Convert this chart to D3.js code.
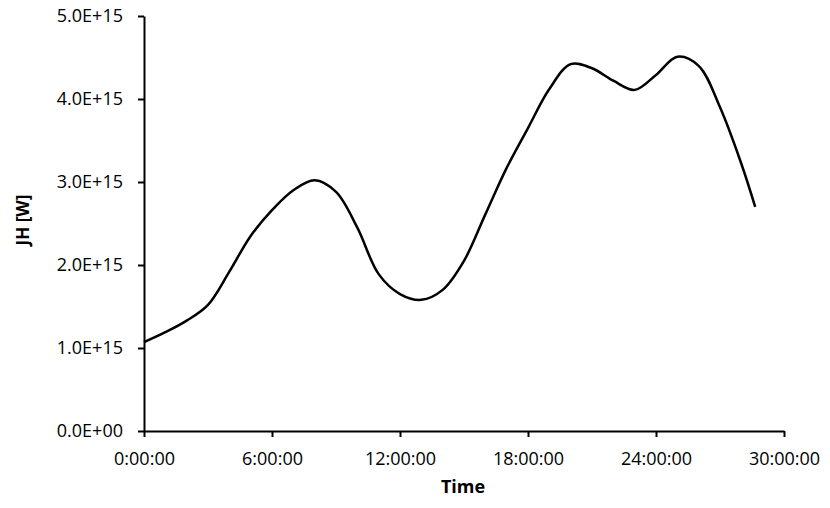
<!DOCTYPE html>
<html><head><meta charset="utf-8">
<script src="https://cdn.jsdelivr.net/npm/d3@7"></script>
<style>body{margin:0;background:#fff}svg{display:block}text{font-family:"Open Sans",sans-serif}</style>
</head><body>
<svg id="c" width="830" height="508"></svg>
<script>
// Hours since start
const hours = [0, 1, 2, 3, 4, 5, 6, 7, 8, 9, 10, 11, 12, 13, 14, 15, 16, 17, 18, 19, 20, 21, 22, 23, 24, 25, 26, 27, 28, 28.65];
// JH [W] in units of 1E15
const jh = [1.07, 1.19, 1.33, 1.52, 1.92, 2.35, 2.66, 2.90, 3.02, 2.88, 2.45, 1.89, 1.65, 1.58, 1.70, 2.05, 2.61, 3.17, 3.65, 4.12, 4.42, 4.37, 4.22, 4.11, 4.29, 4.51, 4.40, 3.90, 3.22, 2.70];
const xTicks = [0, 6, 12, 18, 24, 30];
const xTickLabels = ["0:00:00", "6:00:00", "12:00:00", "18:00:00", "24:00:00", "30:00:00"];
const yTicks = [0, 1, 2, 3, 4, 5];
const yTickLabels = ["0.0E+00", "1.0E+15", "2.0E+15", "3.0E+15", "4.0E+15", "5.0E+15"];

const svg = d3.select("#c");
const x = d3.scaleLinear().domain([0, 30]).range([144, 784]);
const y = d3.scaleLinear().domain([0, 5]).range([431, 16]);

const xAxis = d3.axisBottom(x).tickValues(xTicks).tickFormat((d, i) => xTickLabels[i]).tickSize(6).tickPadding(15).tickSizeOuter(0);
const yAxis = d3.axisLeft(y).tickValues(yTicks).tickFormat((d, i) => yTickLabels[i]).tickSize(6).tickPadding(15).tickSizeOuter(0);

const gx = svg.append("g").attr("transform", "translate(0,431)").call(xAxis);
const gy = svg.append("g").attr("transform", "translate(144,0)").call(yAxis);
[gx, gy].forEach(g => {
  g.select(".domain").attr("stroke", "#000").attr("stroke-width", 2);
  g.selectAll(".tick line").attr("stroke", "#000").attr("stroke-width", 2);
  g.selectAll(".tick text").attr("fill", "#000").style("font-size", "18px").style("font-family", "'Open Sans',sans-serif");
});

const line = d3.line().x((d, i) => x(hours[i])).y(d => y(d)).curve(d3.curveCatmullRom.alpha(0.5));
svg.append("path").datum(jh).attr("d", line).attr("fill", "none").attr("stroke", "#000").attr("stroke-width", 2.5).attr("stroke-linejoin", "round");

svg.append("text").attr("x", 463).attr("y", 493).attr("text-anchor", "middle").style("font-size", "18px").style("font-weight", "bold").text("Time");
svg.append("text").attr("transform", "translate(29,220) rotate(-90)").attr("text-anchor", "middle").style("font-size", "17px").style("font-weight", "bold").text("JH [W]");
</script>
</body></html>
